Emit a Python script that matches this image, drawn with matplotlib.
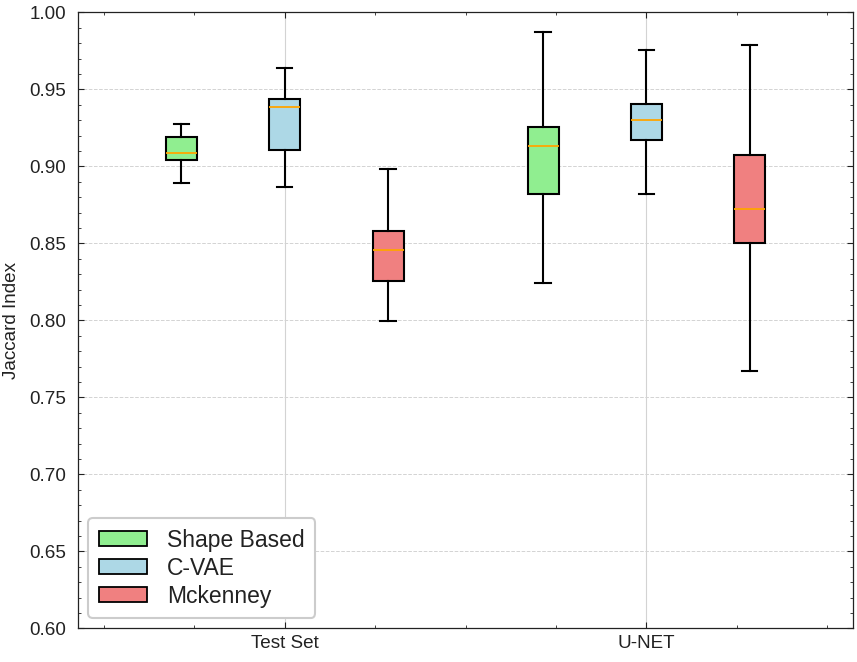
import matplotlib
matplotlib.use("Agg")
import matplotlib.pyplot as plt
from matplotlib.patches import Patch
from matplotlib.ticker import AutoMinorLocator, MultipleLocator, FormatStrFormatter

plt.rcParams['font.family'] = ['Liberation Sans', 'DejaVu Sans']

groups = ["Test Set", "U-NET"]
methods = ["Shape Based", "C-VAE", "Mckenney"]
colors = ["lightgreen", "lightblue", "lightcoral"]

# per group, per method: [low whisker, q1, median, q3, high whisker]
test_stats = [
    [0.8894, 0.9039, 0.9089, 0.9190, 0.9275],
    [0.8868, 0.9108, 0.9388, 0.9437, 0.9641],
    [0.7994, 0.8253, 0.8459, 0.8580, 0.8985],
]
unet_stats = [
    [0.8245, 0.8818, 0.9134, 0.9255, 0.9875],
    [0.8818, 0.9173, 0.9303, 0.9407, 0.9758],
    [0.7671, 0.8505, 0.8725, 0.9073, 0.9786],
]
all_stats = [test_stats, unet_stats]

fig = plt.figure(figsize=(8.57, 6.62), dpi=100)
ax = fig.add_axes([0.091, 0.0509, 0.9044, 0.9305])

group_centers = [2.0, 5.5]
offsets = [-1.0, 0.0, 1.0]

for gi, gstats in enumerate(all_stats):
    for mi, s in enumerate(gstats):
        st = dict(whislo=s[0], q1=s[1], med=s[2], q3=s[3], whishi=s[4], fliers=[])
        pos = group_centers[gi] + offsets[mi]
        ax.bxp([st], positions=[pos], widths=0.3, patch_artist=True, showfliers=False,
               boxprops=dict(facecolor=colors[mi], edgecolor='black', linewidth=1.5),
               medianprops=dict(color='orange', linewidth=1.3),
               whiskerprops=dict(color='black', linewidth=1.5),
               capprops=dict(color='black', linewidth=1.5))

ax.set_xlim(0, 7.5)
ax.set_ylim(0.60, 1.00)
ax.set_xticks(group_centers)
ax.set_xticklabels(groups)
ax.xaxis.set_minor_locator(AutoMinorLocator(4))
ax.yaxis.set_major_locator(MultipleLocator(0.05))
ax.yaxis.set_minor_locator(AutoMinorLocator(5))
ax.yaxis.set_major_formatter(FormatStrFormatter('%.2f'))

ax.tick_params(which='both', direction='in', top=True, right=True, colors='#222222',
               labelsize=13.6)
ax.tick_params(which='major', length=4, width=0.8)
ax.tick_params(which='minor', length=2, width=0.6)
ax.tick_params(axis='x', pad=5)
ax.tick_params(axis='y', pad=8.5)

ax.yaxis.grid(True, linestyle='--', color='#d3d3d3', linewidth=0.7)
ax.xaxis.grid(True, linestyle='-', color='#d3d3d3', linewidth=0.8)
ax.set_axisbelow(True)
for sp in ax.spines.values():
    sp.set_color('#222222')
    sp.set_linewidth(0.9)

ax.set_ylabel("Jaccard Index", fontsize=13.6, color='#222222', labelpad=7)

handles = [Patch(facecolor=c, edgecolor='black', linewidth=1.3, label=m)
           for c, m in zip(colors, methods)]
leg = ax.legend(handles=handles, loc='lower left', prop={'size': 16.5}, frameon=True,
                fancybox=True, framealpha=1, edgecolor='#cccccc',
                handlelength=2.1, handleheight=0.65, handletextpad=0.9,
                borderpad=0.45, labelspacing=0.22, borderaxespad=0.45)
leg.get_frame().set_linewidth(1.5)
for t in leg.get_texts():
    t.set_color('#222222')

fig.savefig("out.png", dpi=100)
